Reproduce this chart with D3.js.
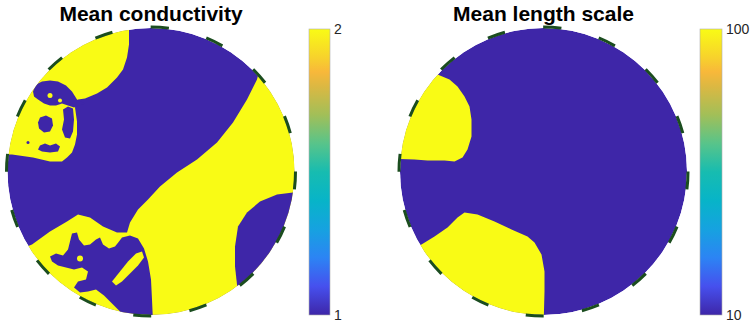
<!DOCTYPE html>
<html>
<head>
<meta charset="utf-8">
<script src="https://cdn.jsdelivr.net/npm/d3@7"></script>
<style>
  body { margin: 0; background: #fff; }
  svg { display: block; font-family: "Liberation Sans", Arial, Helvetica, sans-serif; }
</style>
</head>
<body>
<div id="chart"></div>
<script>
// titles + colour bar ticks
const titles = ['Mean conductivity', 'Mean length scale'];
const condTicks = [1, 2];
const lenTicks = [10, 100];

// parula colour map
const parulaStops = [0, 0.1, 0.2, 0.3, 0.4, 0.5, 0.6, 0.7, 0.8, 0.85, 0.9, 1];
const parulaColors = ['#3e26a8', '#4650ee', '#2c84f4', '#16a2e0', '#07b4c8', '#17bcb0',
    '#58c48a', '#a2bf58', '#dcb842', '#f8b83a', '#f7d22c', '#f9fb15'];

// region outlines, disk of radius 143.5 centred on (0,0)
// conductivity: value 1 everywhere, except these
const condTopLeft = [[-22, 182], [-22, 140], [-22, 127], [-24, 114], [-28, 102], [-34, 94], [-44, 84],
    [-54, 78], [-66, 73], [-73, 72], [-76, 64], [-74, 50], [-74, 37], [-76, 27], [-79, 19], [-84, 14],
    [-89, 10], [-101, 10], [-118, 14], [-139, 17], [-161, 17], [-161, 182]];
const condTopSpeckle = [[-118, 80], [-115, 87], [-109, 90], [-101, 91], [-93, 90], [-85, 86], [-79, 80],
    [-74, 72], [-66, 68], [-77, 64], [-83, 66], [-89, 68], [-95, 66], [-101, 66], [-107, 68], [-113, 72],
    [-117, 75]];
const condSideSpeckle = [[-88, 62], [-83, 65], [-78, 63], [-77, 52], [-78, 40], [-81, 33], [-86, 34],
    [-89, 42], [-87, 52]];
const condEarSpeckle = [[-111, 54], [-105, 56], [-99, 53], [-98, 46], [-101, 40], [-107, 39], [-112, 43],
    [-113, 49]];
const condBoxBlob = [[-111, 26], [-106, 28], [-101, 26], [-95, 28], [-91, 25], [-93, 20], [-101, 19],
    [-109, 20], [-113, 22]];
const condBigBand = [[111, 112], [106, 92], [96, 72], [82, 49], [66, 29], [46, 12], [26, -1], [9, -15],
    [-3, -28], [-13, -38], [-21, -51], [-24, -61], [-34, -61], [-48, -55], [-61, -46], [-73, -43],
    [-84, -50], [-101, -60], [-119, -73], [-136, -80], [-151, -88], [-151, -158], [159, -158], [159, 112]];
const condTangle = [[-29, -66], [-21, -64], [-13, -67], [-7, -77], [-3, -90], [0, -108], [1, -128], [2, -150],
    [-31, -150], [-31, -140], [-39, -132], [-47, -124], [-55, -118], [-63, -120], [-71, -121], [-77, -116],
    [-73, -110], [-65, -108], [-63, -100], [-69, -96], [-77, -98], [-85, -96], [-93, -94], [-99, -90],
    [-101, -85], [-95, -82], [-88, -84], [-83, -78], [-81, -70], [-79, -62], [-74, -61], [-72, -68],
    [-67, -74], [-61, -73], [-55, -68], [-51, -66], [-48, -73], [-42, -77], [-36, -75], [-32, -70]];
const condStreak = [[-39, -110], [-31, -100], [-23, -90], [-15, -82], [-9, -80], [-7, -86], [-13, -94],
    [-21, -102], [-29, -110], [-35, -114]];
const condRightCap = [[159, -21], [142, -21], [126, -23], [109, -30], [96, -41], [87, -55], [84, -75],
    [84, -95], [86, -113], [89, -128], [159, -128]];
// small dots: x, y, radius, value
const condDots = [[-101, 76, 2.5, 2], [-91, 71, 2, 2], [-71, -87, 3, 2], [-123, 29, 1.5, 1]];

// length scale: value 10 everywhere, except these
const lenUpperLeft = [[-154, 112], [-114, 112], [-106, 97], [-94, 92], [-86, 85], [-79, 75], [-74, 65],
    [-72, 52], [-72, 35], [-76, 22], [-81, 14], [-89, 10], [-99, 11], [-116, 11], [-129, 12], [-154, 13]];
const lenLower = [[-134, -78], [-122, -73], [-109, -65], [-96, -56], [-86, -46], [-79, -41], [-66, -43],
    [-49, -50], [-32, -58], [-16, -65], [-9, -71], [-2, -83], [1, -100], [1, -120], [0, -158], [-134, -158]];

const condLayers = [[2, condTopLeft], [1, condTopSpeckle], [1, condSideSpeckle], [1, condEarSpeckle],
    [1, condBoxBlob], [2, condBigBand], [1, condTangle], [2, condStreak], [1, condRightCap]];
const lenLayers = [[100, lenUpperLeft], [100, lenLower]];

const width = 755, height = 322;
const R = 143.5;
const barTop = 29, barBottom = 315;

const parula = d3.scaleLinear().domain(parulaStops).range(parulaColors);
const condNorm = d3.scaleLinear().domain(d3.extent(condTicks)).range([0, 1]);
const lenNorm = d3.scaleLog().domain(d3.extent(lenTicks)).range([0, 1]);

const svg = d3.select('#chart').append('svg')
    .attr('width', width)
    .attr('height', height);

// gradient for the colour bars
const grad = svg.append('defs').append('linearGradient')
    .attr('id', 'parula')
    .attr('x1', 0).attr('y1', 1).attr('x2', 0).attr('y2', 0);
grad.selectAll('stop')
    .data(parulaStops)
    .enter().append('stop')
    .attr('offset', (d) => d)
    .attr('stop-color', (d, i) => parulaColors[i]);

const panels = [
    { id: 'cond', title: titles[0], cx: 151, cy: 171.5, base: 1, layers: condLayers, dots: condDots,
      norm: condNorm, ticks: condTicks, barX: 309, barW: 21,
      barScale: d3.scaleLinear().domain(d3.extent(condTicks)).range([barBottom, barTop]) },
    { id: 'len', title: titles[1], cx: 543.5, cy: 171.5, base: 10, layers: lenLayers, dots: [],
      norm: lenNorm, ticks: lenTicks, barX: 700, barW: 22,
      barScale: d3.scaleLog().domain(d3.extent(lenTicks)).range([barBottom, barTop]) }
];

panels.forEach((p) => {
    const x = d3.scaleLinear().domain([-R, R]).range([p.cx - R, p.cx + R]);
    const y = d3.scaleLinear().domain([-R, R]).range([p.cy + R, p.cy - R]);
    const color = (v) => parula(p.norm(v));
    const line = d3.line()
        .x((d) => x(d[0]))
        .y((d) => y(d[1]))
        .curve(d3.curveLinearClosed);

    svg.select('defs').append('clipPath')
        .attr('id', 'clip-' + p.id)
        .append('circle')
        .attr('cx', x(0)).attr('cy', y(0))
        .attr('r', x(R) - x(0));

    const g = svg.append('g').attr('clip-path', `url(#clip-${p.id})`);

    g.append('circle')
        .attr('cx', x(0)).attr('cy', y(0))
        .attr('r', x(R) - x(0))
        .style('fill', color(p.base));

    g.selectAll('path.region')
        .data(p.layers)
        .enter().append('path')
        .attr('class', 'region')
        .attr('d', (d) => line(d[1]))
        .style('fill', (d) => color(d[0]));

    g.selectAll('circle.dot')
        .data(p.dots)
        .enter().append('circle')
        .attr('class', 'dot')
        .attr('cx', (d) => x(d[0]))
        .attr('cy', (d) => y(d[1]))
        .attr('r', (d) => x(d[2]) - x(0))
        .style('fill', (d) => color(d[3]));

    // dashed boundary, starts at the top and runs clockwise
    svg.append('circle')
        .attr('cx', x(0)).attr('cy', y(0))
        .attr('r', x(R) - x(0) + 1)
        .attr('transform', `rotate(-90, ${x(0)}, ${y(0)})`)
        .style('fill', 'none')
        .style('stroke', '#1b4d1f')
        .style('stroke-width', 3)
        .style('stroke-dasharray', '18 38.7');

    svg.append('text')
        .attr('x', x(0))
        .attr('y', 21)
        .attr('text-anchor', 'middle')
        .style('font-size', '21px')
        .style('font-weight', 'bold')
        .style('fill', '#000')
        .text(p.title);

    // colour bar
    svg.append('rect')
        .attr('x', p.barX)
        .attr('y', barTop)
        .attr('width', p.barW)
        .attr('height', barBottom - barTop)
        .style('fill', 'url(#parula)')
        .style('stroke', '#b0b0b0')
        .style('stroke-width', 0.6);

    const axis = svg.append('g')
        .attr('transform', `translate(${p.barX + p.barW}, 0)`)
        .call(d3.axisRight(p.barScale)
            .tickValues(p.ticks)
            .tickSize(0)
            .tickPadding(4)
            .tickFormat(d3.format('d')));
    axis.select('.domain').remove();
    axis.selectAll('text')
        .style('font-size', '14px')
        .style('fill', '#262626')
        .style('font-family', '"Liberation Sans", Arial, sans-serif');
});
</script>
</body>
</html>
